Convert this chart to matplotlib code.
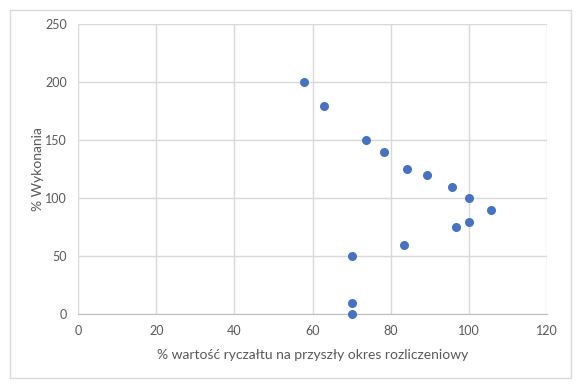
import matplotlib.pyplot as plt
from matplotlib.patches import Rectangle

plt.rcParams['font.family'] = ['Lato', 'DejaVu Sans']

# data
x_vals = [57.7, 63.0, 73.7, 78.3, 84.1, 89.2, 95.6, 100, 105.6, 100, 96.8, 83.3, 70, 70, 70]
y_vals = [200, 180, 150, 140, 125, 120, 110, 100, 90, 80, 75, 60, 50, 10, 0]
x_ticks = [0, 20, 40, 60, 80, 100, 120]
y_ticks = [0, 50, 100, 150, 200, 250]

text_col = '#595959'
grid_col = '#D9D9D9'

fig = plt.figure(figsize=(5.84, 3.86), dpi=100)
ax = fig.add_axes([78 / 584, 1 - 314.3 / 386, 469 / 584, 290 / 386])

# outer chart border
fig.patches.append(Rectangle((10 / 584, 1 - 378 / 386), 561 / 584, 368 / 386,
                             transform=fig.transFigure, fill=False,
                             edgecolor='#D9D9D9', linewidth=1))

ax.scatter(x_vals, y_vals, s=30, color='#4472C4', zorder=3, clip_on=False)

ax.set_xlim(0, 120)
ax.set_ylim(0, 250)
ax.set_xticks(x_ticks)
ax.set_yticks(y_ticks)
ax.grid(True, color=grid_col, linewidth=1)
ax.set_axisbelow(True)
for side in ['top', 'right', 'left']:
    ax.spines[side].set_visible(False)
ax.spines['bottom'].set_color('#BFBFBF')
ax.tick_params(length=0, labelsize=9, labelcolor=text_col, pad=8)

ax.set_xlabel('% wartość ryczałtu na przyszły okres rozliczeniowy', fontsize=10, color=text_col, labelpad=8)
ax.set_ylabel('% Wykonania', fontsize=10, color=text_col, va='center')
ax.yaxis.set_label_coords(-0.085, 0.5)

plt.savefig('out.png', dpi=100)
